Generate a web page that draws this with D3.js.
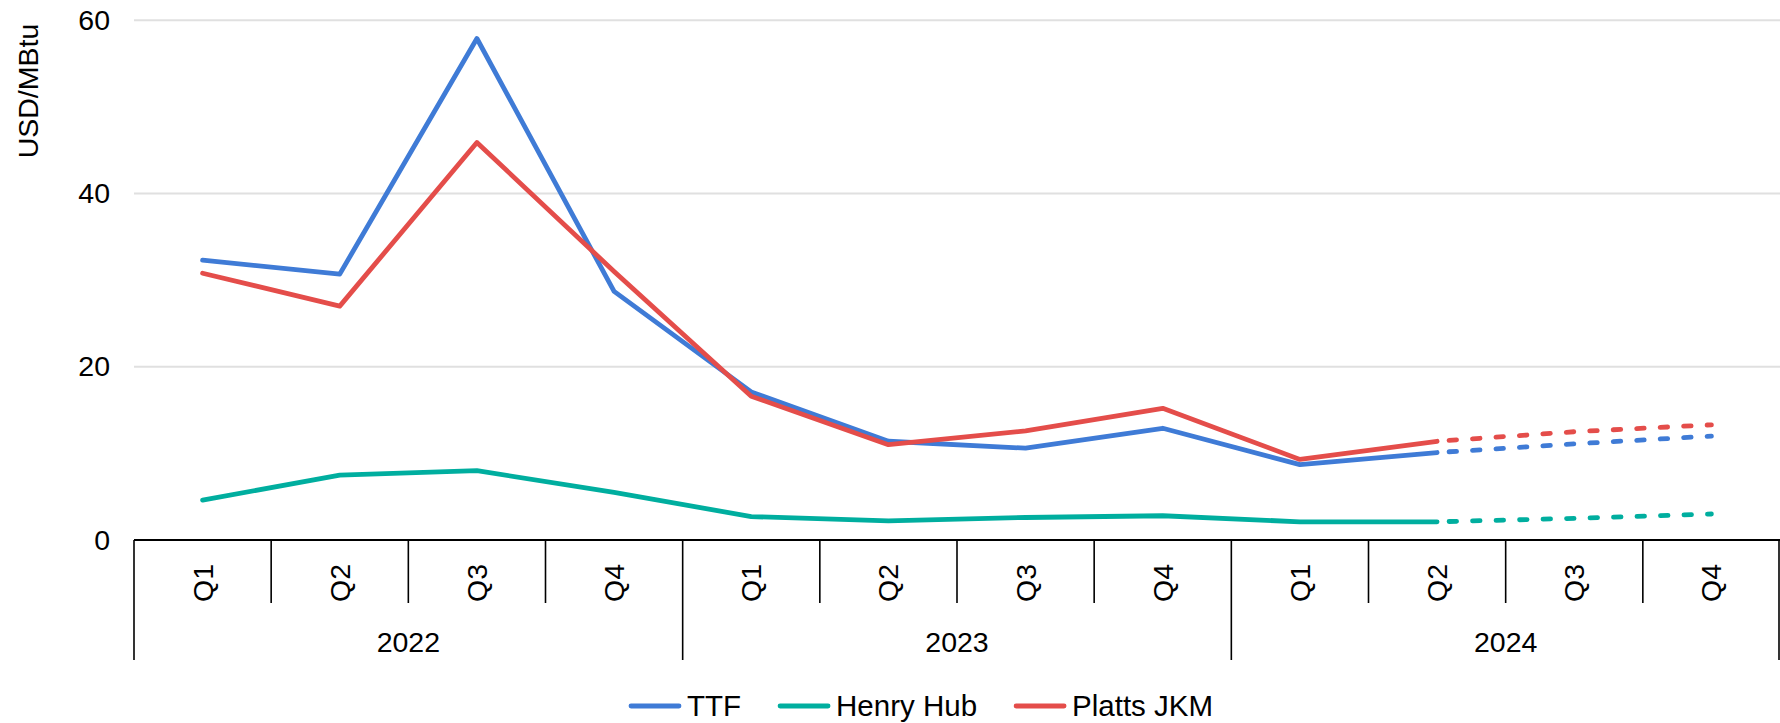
<!DOCTYPE html>
<html>
<head>
<meta charset="utf-8">
<script src="https://cdn.jsdelivr.net/npm/d3@7"></script>
<style>
  html, body { margin: 0; padding: 0; background: #fff; }
  svg text { font-family: "Liberation Sans", Arial, sans-serif; fill: #000; }
</style>
</head>
<body>
<svg id="chart" width="1780" height="723"></svg>
<script>
// ---- data ----
const years = ["2022", "2023", "2024"];
const quarterNames = ["Q1", "Q2", "Q3", "Q4"];
const periods = years.flatMap(yr => quarterNames.map(q => yr + " " + q));
const ttf      = [32.3, 30.7, 57.9, 28.7, 17.1, 11.4, 10.6, 12.9, 8.7, 10.1, 11.1, 12.0];
const henryHub = [4.6, 7.5, 8.0, 5.5, 2.7, 2.2, 2.6, 2.8, 2.1, 2.1, 2.5, 3.0];
const plattsJkm= [30.8, 27.0, 45.9, 31.0, 16.6, 11.0, 12.6, 15.2, 9.3, 11.4, 12.5, 13.3];
const forecastFrom = 9; // index where dashed (forecast) segment begins
const yTicks = [0, 20, 40, 60];
const seriesNames = ["TTF", "Henry Hub", "Platts JKM"];
const seriesColors = ["#3f7bd6", "#00ae9f", "#e44d4a"];
const seriesValues = [ttf, henryHub, plattsJkm];

(function () {
// ---- layout ----
const svg = d3.select("#chart");
const pLeft = 134, pRight = 1780, pTop = 20.3, pBottom = 540;
const x = d3.scaleBand().domain(periods).range([pLeft, pRight]).padding(0);
const y = d3.scaleLinear().domain([0, 60]).range([pBottom, pTop]);
const font = 28.5;
const lw = 4.8;

// gridlines
svg.append("g").selectAll("line")
  .data(yTicks.filter(t => t > 0)).join("line")
  .attr("x1", pLeft).attr("x2", pRight)
  .attr("y1", d => y(d)).attr("y2", d => y(d))
  .attr("stroke", "#e0e0e0").attr("stroke-width", 2);

// y axis labels
const yAxis = d3.axisLeft(y).tickValues(yTicks).tickSize(0).tickPadding(0).tickFormat(d3.format("d"));
const ya = svg.append("g").attr("transform", `translate(${110},0)`).call(yAxis);
ya.select(".domain").remove();
ya.selectAll("text").attr("font-size", font).attr("font-family", "Liberation Sans, Arial, sans-serif").attr("fill", "#000");

// y title
svg.append("text")
  .attr("transform", `translate(38,91) rotate(-90)`)
  .attr("text-anchor", "middle")
  .attr("font-size", font)
  .text("USD/MBtu");

// series lines
const line = d3.line().x(d => x(d.p) + x.bandwidth() / 2).y(d => y(d.v));
seriesValues.forEach((vals, si) => {
  const pts = vals.map((v, i) => ({ p: periods[i], v }));
  svg.append("path")
    .attr("d", line(pts.slice(0, forecastFrom + 1)))
    .attr("fill", "none").attr("stroke", seriesColors[si])
    .attr("stroke-width", lw).attr("stroke-linejoin", "round").attr("stroke-linecap", "round");
  svg.append("path")
    .attr("d", line(pts.slice(forecastFrom)))
    .attr("fill", "none").attr("stroke", seriesColors[si])
    .attr("stroke-width", lw).attr("stroke-linecap", "round")
    .attr("stroke-dasharray", "7.5,16").attr("stroke-dashoffset", -12);
});

// x axis baseline
svg.append("line").attr("x1", pLeft).attr("x2", pRight).attr("y1", pBottom).attr("y2", pBottom)
  .attr("stroke", "#000").attr("stroke-width", 2.2);

// quarter dividers
const bounds = d3.range(periods.length + 1).map(i => pLeft + i * x.bandwidth());
svg.append("g").selectAll("line").data(bounds).join("line")
  .attr("x1", d => Math.min(d, pRight - 1)).attr("x2", d => Math.min(d, pRight - 1))
  .attr("y1", pBottom)
  .attr("y2", (d, i) => (i % 4 === 0 ? 660 : 603))
  .attr("stroke", "#000").attr("stroke-width", 1.6);

// quarter labels
svg.append("g").selectAll("text").data(periods).join("text")
  .attr("transform", d => `translate(${x(d) + x.bandwidth() / 2},583) rotate(-90)`)
  .attr("text-anchor", "middle").attr("dy", "0.35em")
  .attr("font-size", font)
  .text(d => d.split(" ")[1]);

// year labels
svg.append("g").selectAll("text").data(years).join("text")
  .attr("x", yr => (x(yr + " Q1") + x(yr + " Q4") + x.bandwidth()) / 2)
  .attr("y", 642).attr("dy", "0.35em")
  .attr("text-anchor", "middle")
  .attr("font-size", font)
  .text(d => d);

// legend
const lg = svg.append("g");
let cx = 629;
seriesNames.forEach((name, i) => {
  lg.append("line").attr("x1", cx + 2).attr("x2", cx + 50).attr("y1", 706).attr("y2", 706)
    .attr("stroke", seriesColors[i]).attr("stroke-width", lw).attr("stroke-linecap", "round");
  const t = lg.append("text").attr("x", cx + 58).attr("y", 706).attr("dy", "0.35em")
    .attr("font-size", 29.5).text(name);
  cx = cx + 58 + t.node().getComputedTextLength() + 37;
});
})();
</script>
</body>
</html>
